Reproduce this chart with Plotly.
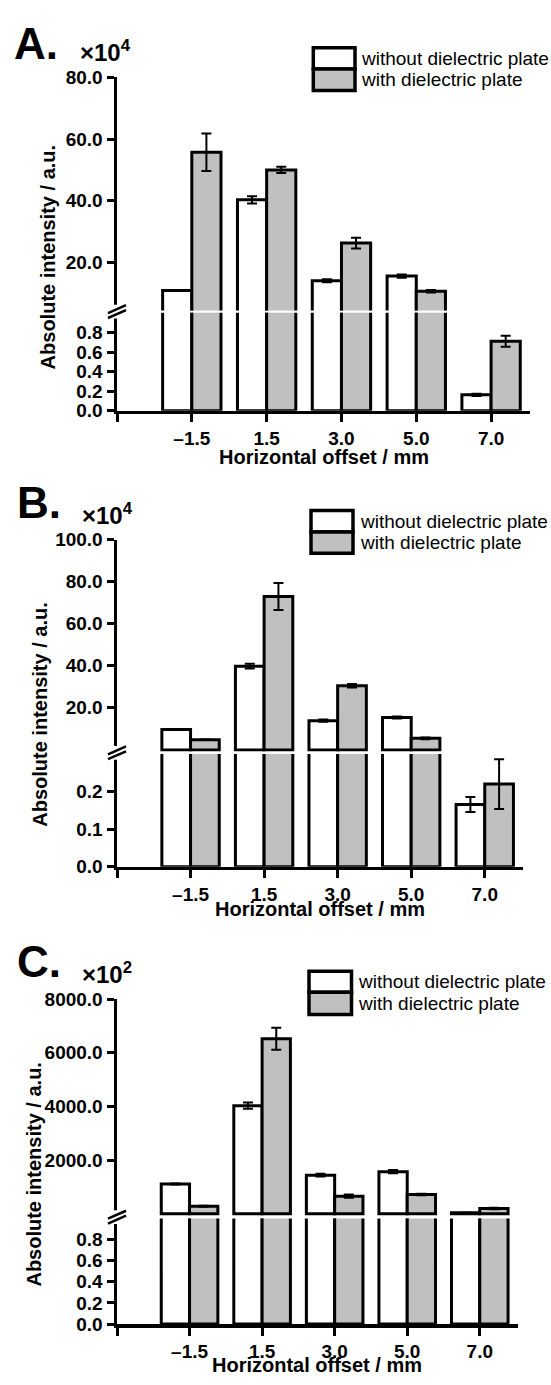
import plotly.graph_objects as go

W, H = 551, 1385

# ---------------- data ----------------
categories = ["–1.5", "1.5", "3.0", "5.0", "7.0"]
series_names = ["without dielectric plate", "with dielectric plate"]

# Panel A (x10^4)
a_without = [10.9, 40.3, 14.1, 15.6, 0.163]
a_without_err = [0.15, 1.2, 0.5, 0.5, 0.012]
a_with = [55.7, 50.0, 26.3, 10.7, 0.71]
a_with_err = [6.1, 1.0, 1.75, 0.4, 0.055]

# Panel B (x10^4)
b_without = [9.7, 39.8, 13.9, 15.4, 0.166]
b_without_err = [0.1, 1.1, 0.5, 0.5, 0.02]
b_with = [4.8, 72.9, 30.5, 5.5, 0.22]
b_with_err = [0.1, 6.4, 0.8, 0.4, 0.066]

# Panel C (x10^2)
c_without = [1109, 4029, 1438, 1569, 36]
c_without_err = [15, 120, 50, 60, 5]
c_with = [280, 6522, 657, 719, 197]
c_with_err = [20, 410, 60, 25, 30]

a_upper_ticks = [20, 40, 60, 80]
a_lower_ticks = [0, 0.2, 0.4, 0.6, 0.8]
b_upper_ticks = [20, 40, 60, 80, 100]
b_lower_ticks = [0, 0.1, 0.2]
c_upper_ticks = [2000, 4000, 6000, 8000]
c_lower_ticks = [0, 0.2, 0.4, 0.6, 0.8]

panel_letters = ["A.", "B.", "C."]
exponents = ["4", "4", "2"]
x_title = "Horizontal offset / mm"
y_title = "Absolute intensity / a.u."

# ---------------- layout geometry (pixels) ----------------
panels = [
    dict(data=(a_without, a_without_err, a_with, a_with_err),
         ticks=(a_upper_ticks, a_lower_ticks),
         xl=117, xr=530, up=(68.3, 305.0), lo=(307.5, 407.0),
         up_range=[4.5, 80], lo_range=[0, 1.0],
         letter=(12, 34), expo=(78, 42), leg=(313.3, 355, 38.3, 60, 81.7, 359),
         xt=454, yt=(47.7, 251.5)),
    dict(data=(b_without, b_without_err, b_with, b_with_err),
         ticks=(b_upper_ticks, b_lower_ticks),
         xl=117, xr=523, up=(537.7, 753.0), lo=(755.5, 870.0),
         up_range=[-0.8, 100], lo_range=[0, 0.3],
         letter=(15, 500), expo=(80, 512), leg=(311, 353, 508.3, 530, 551.7, 357.5),
         xt=913, yt=(40.6, 716)),
    dict(data=(c_without, c_without_err, c_with, c_with_err),
         ticks=(c_upper_ticks, c_lower_ticks),
         xl=117, xr=517.5, up=(1004.3, 1224.5), lo=(1227.0, 1334.3),
         up_range=[-80, 8000], lo_range=[0, 1.0],
         letter=(15, 966), expo=(80, 978), leg=(309, 351.5, 976, 997.3, 1020, 355.5),
         xt=1376, yt=(34.5, 1183)),
]

def px(x):
    return x / W

def py(y):
    return 1 - y / H

FONT = "Liberation Sans"
GRAY = "#c0c0c0"

fig = go.Figure()
shapes = []
annotations = []
layout_axes = {}

xidx = list(range(len(categories)))

for i, p in enumerate(panels):
    xname = "x" if i == 0 else f"x{i + 1}"
    lo_name = "y" if i == 0 else f"y{2 * i + 1}"
    up_name = f"y{2 * i + 2}"
    xkey = "xaxis" if i == 0 else f"xaxis{i + 1}"
    lokey = "yaxis" if i == 0 else f"yaxis{2 * i + 1}"
    upkey = f"yaxis{2 * i + 2}"

    common = dict(showline=True, linewidth=3.5, linecolor="black", ticks="outside",
                  ticklen=7, tickwidth=3, tickcolor="black", showgrid=False,
                  zeroline=False, fixedrange=True,
                  tickfont=dict(family=FONT, size=19, color="black", weight="bold"))

    layout_axes[xkey] = dict(common, domain=[px(p["xl"]), px(p["xr"])], range=[-1, 4.52],
                             anchor=lo_name, tickvals=xidx, ticktext=categories, ticklen=8,
                             minor=dict(tickvals=[-1], ticks="outside", ticklen=8,
                                        tickwidth=3, tickcolor="black", showgrid=False))
    layout_axes[lokey] = dict(common, domain=[py(p["lo"][1]), py(p["lo"][0])],
                              range=p["lo_range"], anchor=xname,
                              tickvals=p["ticks"][1], tickformat=".1f")
    layout_axes[upkey] = dict(common, domain=[py(p["up"][1]), py(p["up"][0])],
                              range=p["up_range"], anchor=xname,
                              tickvals=p["ticks"][0], tickformat=".1f")

    v_wo, e_wo, v_w, e_w = p["data"]
    lo_max = p["lo_range"][1]
    for yname in (lo_name, up_name):
        for vals, errs, color, off, nm in ((v_wo, e_wo, "white", -0.39, series_names[0]),
                                          (v_w, e_w, GRAY, 0.0, series_names[1])):
            if yname == up_name:
                # values that fit in the lower segment are not shown on the upper one
                yv = [v if v > lo_max else None for v in vals]
                ev = [e if v > lo_max else None for v, e in zip(vals, errs)]
            else:
                yv, ev = vals, errs
            fig.add_trace(go.Bar(
                x=xidx, y=yv, width=0.39, offset=off, name=nm,
                marker=dict(color=color, line=dict(color="black", width=3)),
                error_y=dict(type="data", array=ev, color="black", thickness=2, width=5),
                xaxis=xname, yaxis=yname, showlegend=False))

    # axis break marks
    c = (p["up"][1] + p["lo"][0]) / 2
    shapes.append(dict(type="rect", xref="paper", yref="paper", layer="above",
                       x0=px(110), x1=px(124), y0=py(c + 7), y1=py(c - 7),
                       fillcolor="white", line=dict(width=0)))
    for d in (-2.5, 2.5):
        shapes.append(dict(type="line", xref="paper", yref="paper", layer="above",
                           x0=px(108), y0=py(c + d + 4), x1=px(126), y1=py(c + d - 4),
                           line=dict(color="black", width=2.5)))

    # legend (manual)
    lx0, lx1, ly0, ly1, ly2, tx = p["leg"]
    shapes.append(dict(type="rect", xref="paper", yref="paper", layer="above",
                       x0=px(lx0), x1=px(lx1), y0=py(ly1), y1=py(ly0),
                       fillcolor="white", line=dict(color="black", width=3.5)))
    shapes.append(dict(type="rect", xref="paper", yref="paper", layer="above",
                       x0=px(lx0), x1=px(lx1), y0=py(ly2), y1=py(ly1),
                       fillcolor=GRAY, line=dict(color="black", width=3.5)))
    for nm, yy in ((series_names[0], (ly0 + ly1) / 2), (series_names[1], (ly1 + ly2) / 2)):
        annotations.append(dict(text=nm, xref="paper", yref="paper", x=px(tx), y=py(yy),
                                xanchor="left", yanchor="middle", showarrow=False,
                                font=dict(family=FONT, size=19, color="black")))

    # panel letter and multiplier
    annotations.append(dict(text="<b>" + panel_letters[i] + "</b>", xref="paper", yref="paper",
                            x=px(p["letter"][0]), y=py(p["letter"][1]), xanchor="left",
                            yanchor="middle", showarrow=False,
                            font=dict(family=FONT, size=44, color="black")))
    annotations.append(dict(text="<b>×10<sup>" + exponents[i] + "</sup></b>", xref="paper",
                            yref="paper", x=px(p["expo"][0]), y=py(p["expo"][1]),
                            xanchor="left", yanchor="middle", showarrow=False,
                            font=dict(family=FONT, size=24, color="black")))
    # axis titles
    annotations.append(dict(text="<b>" + x_title + "</b>", xref="paper", yref="paper",
                            x=px((p["xl"] + p["xr"]) / 2), y=py(p["xt"]), xanchor="center",
                            yanchor="middle", showarrow=False,
                            font=dict(family=FONT, size=20, color="black")))
    annotations.append(dict(text="<b>" + y_title + "</b>", xref="paper", yref="paper",
                            x=px(p["yt"][0]), y=py(p["yt"][1]), xanchor="center",
                            yanchor="middle", textangle=-90, showarrow=False,
                            font=dict(family=FONT, size=20, color="black")))

fig.update_layout(
    width=W, height=H, autosize=False,
    margin=dict(l=0, r=0, t=0, b=0),
    paper_bgcolor="white", plot_bgcolor="white",
    barmode="overlay", showlegend=False,
    shapes=shapes, annotations=annotations,
    **layout_axes,
)

fig.write_html("out.html",
               config={"displayModeBar": False, "staticPlot": True},
               post_script="document.body.style.margin='0px';document.body.style.overflow='hidden';")
